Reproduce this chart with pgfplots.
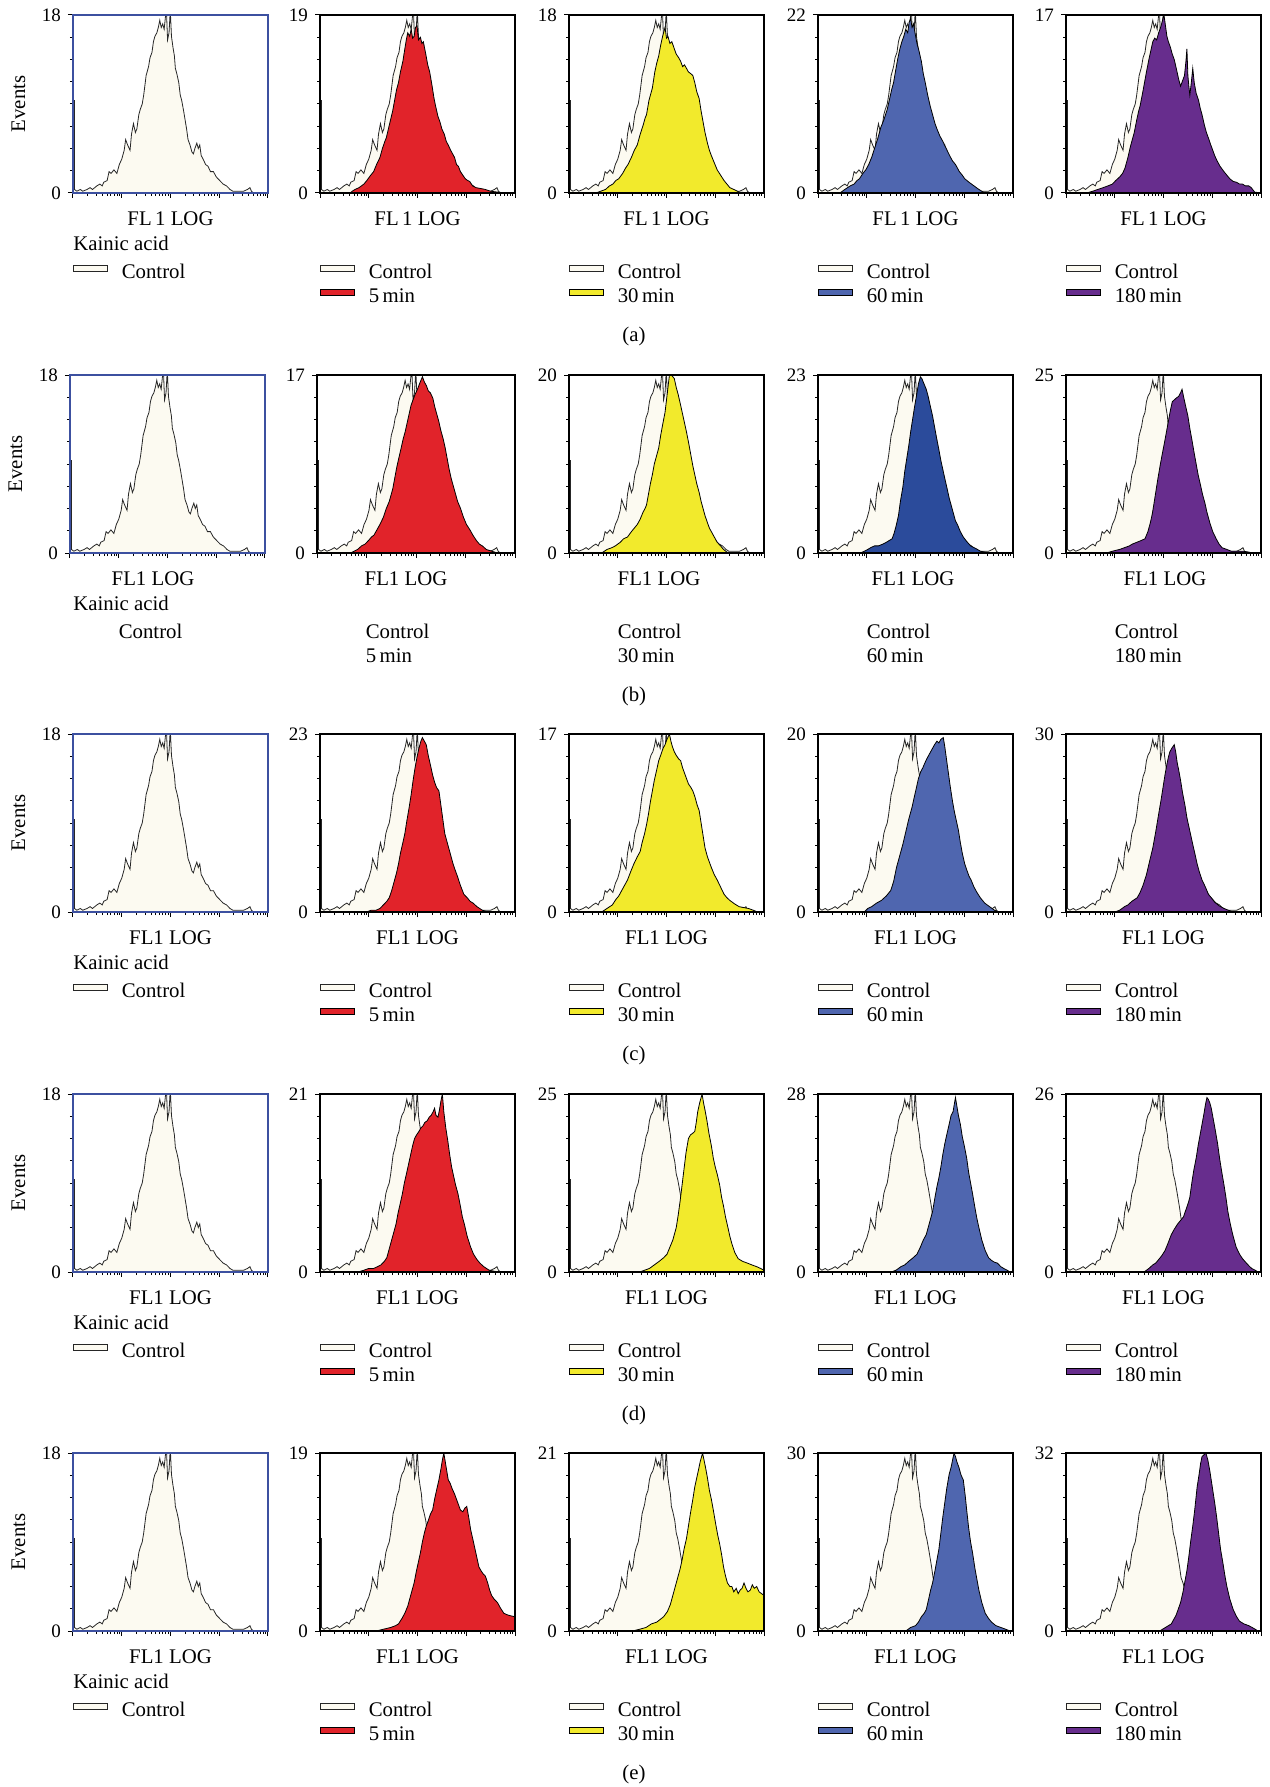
\documentclass[border=0pt]{standalone}
\usepackage{pgfplots}
\pgfplotsset{compat=1.18}
\usepackage{pgfplotstable}
\usepackage{fontspec}
\setmainfont{Liberation Serif}

\definecolor{cream}{HTML}{FCFAF1}
\definecolor{cred}{HTML}{E1232A}
\definecolor{cyel}{HTML}{F2EA2C}
\definecolor{cblue}{HTML}{4F66AF}
\definecolor{cdblue}{HTML}{2B4B9B}
\definecolor{cpur}{HTML}{672D8D}
\definecolor{frameblue}{HTML}{3C50A0}

% control histogram (x = log10 FL1 intensity, y = fraction of panel maximum)
\pgfplotstableread{
x y
0 0
0 0.52
0.03 0.52
0.03 0.02
0.08 0.01
0.15 0.02
0.2 0.01
0.29 0.02
0.35 0.03
0.4 0.02
0.49 0.04
0.55 0.05
0.6 0.04
0.63 0.06
0.7 0.07
0.74 0.12
0.78 0.11
0.84 0.13
0.9 0.11
0.95 0.16
1.0 0.19
1.05 0.24
1.08 0.30
1.12 0.27
1.17 0.24
1.2 0.33
1.24 0.39
1.28 0.34
1.31 0.36
1.35 0.44
1.38 0.47
1.42 0.50
1.45 0.55
1.5 0.66
1.55 0.71
1.58 0.76
1.62 0.79
1.65 0.85
1.68 0.88
1.72 0.90
1.75 0.93
1.78 0.97
1.81 0.93
1.84 0.95
1.87 0.92
1.9 1.0
1.92 1.0
1.94 0.86
1.97 0.90
1.99 1.0
2.0 1.0
2.02 0.88
2.05 0.82
2.08 0.77
2.1 0.70
2.13 0.67
2.17 0.62
2.2 0.55
2.23 0.52
2.27 0.46
2.3 0.41
2.33 0.36
2.36 0.30
2.4 0.27
2.44 0.23
2.47 0.22
2.5 0.25
2.54 0.28
2.57 0.25
2.6 0.27
2.63 0.21
2.67 0.19
2.72 0.16
2.77 0.15
2.82 0.12
2.88 0.12
2.94 0.09
3.01 0.07
3.08 0.05
3.15 0.04
3.22 0.02
3.28 0.01
3.4 0.01
3.5 0.01
3.58 0.02
3.63 0.03
3.66 0.01
3.7 0.0
4 0
}\ctrl

\pgfplotsset{
  hist/.style={
    scale only axis, width=97.5pt, height=89pt, anchor=north west,
    xmin=0, xmax=4, ymin=0, ymax=1,
    xtick={0,1,2,3,4}, xticklabels={},
    minor xtick={0.301,0.477,0.602,0.699,0.778,0.845,0.903,0.954,
                 1.301,1.477,1.602,1.699,1.778,1.845,1.903,1.954,
                 2.301,2.477,2.602,2.699,2.778,2.845,2.903,2.954,
                 3.301,3.477,3.602,3.699,3.778,3.845,3.903,3.954},
    ytick={0,1}, minor ytick={0.125,0.25,...,0.875},
    tick align=outside, xtick pos=left, ytick pos=left,
    major tick length=2.5pt, minor tick length=1.5pt,
    tick style={black, line width=0.5pt},
    axis line style={line width=0.6pt},
    axis on top, no markers,
    /pgf/number format/assume math mode=true,
    yticklabel style={font=\fontsize{9.5}{10}\selectfont},
    xlabel={FL1 LOG},
    xlabel style={at={(axis description cs:0.5,0)}, anchor=north, yshift=-6pt,
      font=\fontsize{10.4}{12}\selectfont},
    legend cell align=left,
    legend style={at={(0,0)}, anchor=north west, yshift=-35.5pt,
      draw=none, fill=none, inner sep=0pt, outer sep=0pt,
      row sep=3pt, column sep=7pt, font=\fontsize{10.4}{12}\selectfont,
      nodes={inner sep=0pt, text height=7pt, text depth=2pt}},
    legend image code/.code={\draw[##1, line width=0.4pt] (0pt,0.6pt) rectangle (17pt,3.8pt);},
  },
  firstcol/.style={
    axis line style={draw=frameblue, line width=0.8pt},
    ylabel={Events},
    ylabel style={at={(axis description cs:-0.28,0.5)}, anchor=center,
      font=\fontsize{10.4}{12}\selectfont},
  },
  nobox/.style={legend image post style={draw=none, fill=none, opacity=0}},
  ctrl/.style={draw=black!85, line width=0.4pt, fill=cream},
  tr/.style={draw=black, line width=0.4pt, fill=#1},
}

\newcommand{\hpanel}[4]{%
  \begin{axis}[hist, at={(#1)}, yticklabels={0,#2}, #3]
  \addplot[ctrl] table {\ctrl} \closedcycle;
  #4
  \end{axis}}

\begin{document}
\begin{tikzpicture}
\useasboundingbox (0,0) rectangle (634.5pt,-893.5pt);

% ---------------- row (a)
\hpanel{36.5pt,-7.5pt}{18}{firstcol, xlabel={FL\,1 LOG}, legend entries={Control}}{}
\hpanel{160pt,-7.5pt}{19}{xlabel={FL\,1 LOG}, legend entries={Control,5\,min}}{
\addplot[tr=cred] coordinates {(0.62,0)(0.66,0.01)(0.72,0.02)(0.8,0.03)(0.85,0.04)(0.9,0.05)(0.96,0.07)(1.04,0.10)(1.1,0.12)(1.16,0.16)(1.23,0.20)(1.28,0.25)(1.33,0.29)(1.36,0.31)(1.42,0.38)(1.49,0.46)(1.53,0.52)(1.57,0.58)(1.61,0.62)(1.65,0.68)(1.7,0.74)(1.74,0.81)(1.77,0.86)(1.8,0.90)(1.84,0.88)(1.87,0.92)(1.9,0.87)(1.93,0.88)(1.96,0.93)(1.99,0.94)(2.02,0.86)(2.06,0.875)(2.09,0.84)(2.12,0.85)(2.17,0.78)(2.21,0.72)(2.25,0.68)(2.3,0.60)(2.34,0.53)(2.37,0.49)(2.42,0.43)(2.46,0.40)(2.5,0.36)(2.55,0.33)(2.59,0.29)(2.63,0.27)(2.68,0.24)(2.72,0.22)(2.76,0.20)(2.8,0.16)(2.84,0.15)(2.88,0.12)(2.93,0.10)(2.98,0.08)(3.03,0.07)(3.07,0.065)(3.13,0.04)(3.2,0.03)(3.3,0.025)(3.39,0.02)(3.5,0.01)(3.64,0.005)(3.83,0)} \closedcycle;}
\hpanel{284.5pt,-7.5pt}{18}{xlabel={FL\,1 LOG}, legend entries={Control,30\,min}}{
\addplot[tr=cyel] coordinates {(0.55,0)(0.65,0.01)(0.75,0.02)(0.83,0.04)(0.9,0.05)(0.96,0.07)(1.02,0.08)(1.1,0.11)(1.16,0.14)(1.21,0.16)(1.28,0.2)(1.34,0.24)(1.4,0.27)(1.46,0.33)(1.52,0.38)(1.56,0.42)(1.59,0.44)(1.64,0.52)(1.68,0.56)(1.71,0.59)(1.76,0.68)(1.8,0.73)(1.84,0.77)(1.88,0.83)(1.92,0.88)(1.95,0.91)(1.97,0.93)(2.0,0.87)(2.03,0.88)(2.07,0.84)(2.11,0.85)(2.16,0.81)(2.2,0.78)(2.25,0.76)(2.29,0.74)(2.33,0.71)(2.37,0.72)(2.41,0.70)(2.45,0.68)(2.5,0.67)(2.54,0.66)(2.58,0.62)(2.62,0.57)(2.67,0.53)(2.71,0.46)(2.75,0.4)(2.79,0.34)(2.84,0.28)(2.88,0.24)(2.92,0.21)(2.98,0.17)(3.04,0.13)(3.11,0.10)(3.18,0.07)(3.24,0.05)(3.3,0.03)(3.38,0.02)(3.49,0.005)(3.75,0)} \closedcycle;}
\hpanel{409pt,-7.5pt}{22}{xlabel={FL\,1 LOG}, legend entries={Control,60\,min}}{
\addplot[tr=cblue] coordinates {(0.45,0)(0.55,0.02)(0.66,0.04)(0.74,0.05)(0.8,0.07)(0.85,0.08)(0.92,0.11)(0.98,0.13)(1.04,0.16)(1.1,0.2)(1.16,0.25)(1.23,0.31)(1.29,0.37)(1.35,0.41)(1.42,0.47)(1.47,0.53)(1.51,0.58)(1.55,0.62)(1.6,0.7)(1.64,0.76)(1.68,0.81)(1.72,0.85)(1.76,0.88)(1.8,0.92)(1.84,0.9)(1.87,0.96)(1.9,0.98)(1.93,0.93)(1.96,0.95)(1.99,0.90)(2.03,0.84)(2.07,0.80)(2.12,0.74)(2.16,0.67)(2.2,0.62)(2.25,0.55)(2.3,0.49)(2.35,0.44)(2.4,0.39)(2.44,0.36)(2.5,0.32)(2.56,0.29)(2.63,0.25)(2.7,0.21)(2.76,0.18)(2.82,0.16)(2.9,0.12)(2.96,0.10)(3.01,0.08)(3.1,0.06)(3.2,0.04)(3.3,0.02)(3.39,0.005)(3.58,0)} \closedcycle;}
\hpanel{533pt,-7.5pt}{17}{xlabel={FL\,1 LOG}, legend entries={Control,180\,min}}{
\addplot[tr=cpur] coordinates {(0.42,0)(0.55,0.01)(0.65,0.02)(0.76,0.03)(0.86,0.04)(0.95,0.05)(1.02,0.07)(1.1,0.09)(1.16,0.11)(1.21,0.14)(1.27,0.2)(1.32,0.26)(1.36,0.3)(1.4,0.34)(1.45,0.41)(1.49,0.46)(1.52,0.49)(1.57,0.56)(1.61,0.62)(1.65,0.68)(1.7,0.75)(1.74,0.8)(1.78,0.85)(1.82,0.87)(1.86,0.86)(1.9,0.9)(1.94,0.93)(1.98,0.97)(2.01,1.0)(2.04,0.94)(2.07,0.88)(2.1,0.85)(2.14,0.82)(2.18,0.78)(2.22,0.75)(2.27,0.69)(2.31,0.64)(2.35,0.6)(2.39,0.63)(2.43,0.66)(2.46,0.74)(2.48,0.81)(2.5,0.66)(2.52,0.6)(2.54,0.55)(2.57,0.62)(2.6,0.70)(2.63,0.62)(2.67,0.56)(2.72,0.52)(2.75,0.48)(2.79,0.44)(2.84,0.38)(2.88,0.34)(2.92,0.31)(2.97,0.27)(3.01,0.24)(3.05,0.21)(3.1,0.18)(3.16,0.15)(3.24,0.12)(3.3,0.1)(3.36,0.08)(3.43,0.065)(3.5,0.06)(3.56,0.05)(3.62,0.05)(3.68,0.04)(3.75,0.04)(3.8,0.03)(3.87,0.005)(4,0)} \closedcycle;}

% ---------------- row (b)
\hpanel{35pt,-187.5pt}{18}{firstcol, nobox, xlabel style={xshift=-7.25pt}, legend entries={Control}}{}
\hpanel{158.5pt,-187.5pt}{17}{width=99pt, nobox, xlabel style={xshift=-5pt}, legend entries={Control,5\,min}}{
\addplot[tr=cred] coordinates {(0.68,0)(0.75,0.01)(0.82,0.02)(0.9,0.04)(0.97,0.05)(1.04,0.07)(1.1,0.09)(1.15,0.10)(1.21,0.13)(1.27,0.16)(1.34,0.20)(1.4,0.25)(1.46,0.29)(1.5,0.33)(1.53,0.36)(1.57,0.42)(1.61,0.48)(1.65,0.53)(1.7,0.59)(1.74,0.64)(1.78,0.68)(1.82,0.73)(1.86,0.78)(1.9,0.83)(1.94,0.86)(1.98,0.89)(2.03,0.92)(2.07,0.95)(2.1,0.97)(2.13,0.99)(2.17,0.96)(2.21,0.94)(2.25,0.91)(2.29,0.9)(2.34,0.87)(2.38,0.82)(2.42,0.78)(2.46,0.74)(2.5,0.69)(2.55,0.64)(2.59,0.59)(2.63,0.53)(2.67,0.47)(2.71,0.42)(2.76,0.37)(2.8,0.33)(2.84,0.29)(2.9,0.25)(2.96,0.20)(3.02,0.16)(3.09,0.13)(3.15,0.10)(3.22,0.07)(3.28,0.05)(3.34,0.04)(3.42,0.02)(3.53,0.01)(3.65,0)} \closedcycle;}
\hpanel{284.5pt,-187.5pt}{20}{nobox, xlabel style={xshift=-3.75pt}, legend entries={Control,30\,min}}{
\addplot[tr=cyel] coordinates {(0.67,0)(0.78,0.02)(0.88,0.03)(0.95,0.04)(1.05,0.06)(1.12,0.08)(1.2,0.09)(1.28,0.12)(1.34,0.14)(1.4,0.16)(1.46,0.19)(1.52,0.23)(1.56,0.25)(1.59,0.27)(1.63,0.33)(1.67,0.39)(1.71,0.44)(1.75,0.5)(1.8,0.55)(1.84,0.59)(1.88,0.66)(1.92,0.72)(1.97,0.79)(2.0,0.86)(2.03,0.93)(2.06,1.0)(2.1,1.0)(2.13,0.99)(2.16,0.98)(2.2,0.93)(2.24,0.89)(2.29,0.83)(2.33,0.78)(2.37,0.73)(2.41,0.68)(2.46,0.61)(2.5,0.55)(2.54,0.49)(2.58,0.44)(2.62,0.39)(2.67,0.34)(2.71,0.29)(2.75,0.25)(2.79,0.21)(2.84,0.17)(2.88,0.14)(2.92,0.12)(2.98,0.09)(3.04,0.06)(3.11,0.04)(3.17,0.02)(3.24,0.005)(3.37,0)} \closedcycle;}
\hpanel{409pt,-187.5pt}{23}{nobox, xlabel style={xshift=-1.25pt}, legend entries={Control,60\,min}}{
\addplot[tr=cdblue] coordinates {(0.87,0)(0.95,0.01)(1.02,0.02)(1.08,0.03)(1.16,0.04)(1.24,0.04)(1.33,0.05)(1.4,0.06)(1.46,0.07)(1.52,0.08)(1.56,0.11)(1.6,0.15)(1.65,0.21)(1.69,0.29)(1.74,0.37)(1.78,0.46)(1.82,0.53)(1.86,0.6)(1.9,0.68)(1.94,0.75)(1.98,0.82)(2.03,0.90)(2.06,0.95)(2.1,0.99)(2.13,0.98)(2.16,0.96)(2.19,0.94)(2.22,0.92)(2.26,0.88)(2.3,0.83)(2.35,0.77)(2.39,0.71)(2.43,0.65)(2.48,0.58)(2.52,0.52)(2.56,0.47)(2.6,0.42)(2.65,0.36)(2.69,0.31)(2.73,0.27)(2.78,0.22)(2.82,0.18)(2.86,0.16)(2.92,0.12)(2.98,0.09)(3.05,0.065)(3.13,0.04)(3.24,0.025)(3.33,0.01)(3.43,0.005)(3.56,0)} \closedcycle;}
\hpanel{533pt,-187.5pt}{25}{nobox, xlabel style={xshift=0.75pt}, legend entries={Control,180\,min}}{
\addplot[tr=cpur] coordinates {(0.83,0)(0.95,0.01)(1.1,0.02)(1.2,0.03)(1.3,0.04)(1.36,0.05)(1.45,0.06)(1.54,0.07)(1.62,0.08)(1.68,0.12)(1.73,0.17)(1.77,0.22)(1.8,0.27)(1.84,0.34)(1.88,0.41)(1.93,0.49)(1.97,0.55)(2.02,0.62)(2.06,0.68)(2.1,0.74)(2.14,0.8)(2.18,0.85)(2.22,0.86)(2.26,0.87)(2.31,0.88)(2.35,0.90)(2.38,0.92)(2.41,0.88)(2.45,0.83)(2.5,0.77)(2.54,0.7)(2.58,0.64)(2.63,0.56)(2.67,0.5)(2.71,0.44)(2.76,0.38)(2.8,0.33)(2.85,0.28)(2.89,0.23)(2.95,0.17)(3.01,0.12)(3.08,0.08)(3.14,0.05)(3.2,0.03)(3.3,0.02)(3.39,0.01)(3.5,0.01)(3.64,0.01)(3.75,0.005)(3.83,0)} \closedcycle;}

% ---------------- row (c)
\hpanel{36.5pt,-367pt}{18}{firstcol, legend entries={Control}}{}
\hpanel{160pt,-367pt}{23}{legend entries={Control,5\,min}}{
\addplot[tr=cred] coordinates {(0.95,0)(1.05,0.01)(1.15,0.01)(1.23,0.02)(1.3,0.04)(1.37,0.06)(1.42,0.08)(1.47,0.12)(1.52,0.17)(1.57,0.22)(1.61,0.27)(1.65,0.33)(1.7,0.39)(1.74,0.44)(1.78,0.51)(1.83,0.59)(1.87,0.66)(1.91,0.74)(1.95,0.81)(1.99,0.87)(2.03,0.92)(2.07,0.96)(2.1,0.98)(2.14,0.96)(2.18,0.94)(2.22,0.88)(2.27,0.82)(2.31,0.77)(2.35,0.73)(2.39,0.70)(2.44,0.68)(2.48,0.6)(2.52,0.52)(2.56,0.44)(2.6,0.40)(2.65,0.35)(2.69,0.31)(2.73,0.27)(2.78,0.23)(2.82,0.2)(2.88,0.15)(2.95,0.10)(3.02,0.08)(3.08,0.06)(3.14,0.05)(3.22,0.03)(3.33,0.01)(3.45,0)} \closedcycle;}
\hpanel{284.5pt,-367pt}{17}{legend entries={Control,30\,min}}{
\addplot[tr=cyel] coordinates {(0.67,0)(0.78,0.02)(0.89,0.04)(0.96,0.07)(1.02,0.09)(1.08,0.12)(1.14,0.15)(1.2,0.18)(1.27,0.23)(1.33,0.27)(1.4,0.31)(1.46,0.34)(1.5,0.39)(1.55,0.44)(1.59,0.49)(1.63,0.55)(1.67,0.62)(1.71,0.68)(1.75,0.74)(1.8,0.8)(1.84,0.85)(1.88,0.88)(1.93,0.92)(1.97,0.94)(2.01,0.97)(2.06,1.0)(2.09,0.96)(2.12,0.93)(2.16,0.90)(2.2,0.88)(2.25,0.86)(2.29,0.85)(2.33,0.81)(2.37,0.78)(2.41,0.75)(2.45,0.72)(2.5,0.7)(2.54,0.68)(2.58,0.65)(2.63,0.60)(2.67,0.57)(2.71,0.5)(2.75,0.43)(2.79,0.36)(2.84,0.31)(2.88,0.28)(2.92,0.25)(2.98,0.21)(3.04,0.18)(3.11,0.14)(3.18,0.1)(3.24,0.08)(3.3,0.065)(3.4,0.045)(3.49,0.03)(3.58,0.025)(3.68,0.02)(3.78,0.01)(3.87,0)} \closedcycle;}
\hpanel{409pt,-367pt}{20}{legend entries={Control,60\,min}}{
\addplot[tr=cblue] coordinates {(0.95,0)(1.02,0.02)(1.1,0.03)(1.2,0.05)(1.3,0.065)(1.4,0.09)(1.49,0.12)(1.55,0.17)(1.61,0.25)(1.67,0.31)(1.74,0.38)(1.8,0.45)(1.86,0.52)(1.93,0.59)(1.97,0.64)(2.02,0.7)(2.06,0.75)(2.11,0.79)(2.15,0.81)(2.18,0.83)(2.23,0.86)(2.27,0.88)(2.31,0.90)(2.35,0.92)(2.39,0.94)(2.44,0.96)(2.48,0.95)(2.52,0.97)(2.57,0.98)(2.6,0.93)(2.63,0.87)(2.67,0.79)(2.71,0.71)(2.76,0.62)(2.8,0.56)(2.84,0.51)(2.88,0.46)(2.92,0.39)(2.96,0.33)(3.01,0.27)(3.06,0.23)(3.1,0.2)(3.14,0.18)(3.2,0.14)(3.26,0.11)(3.33,0.08)(3.42,0.05)(3.52,0.03)(3.62,0.01)(3.71,0)} \closedcycle;}
\hpanel{533pt,-367pt}{30}{legend entries={Control,180\,min}}{
\addplot[tr=cpur] coordinates {(1.0,0)(1.1,0.01)(1.2,0.03)(1.27,0.04)(1.35,0.06)(1.46,0.08)(1.52,0.11)(1.58,0.15)(1.65,0.21)(1.71,0.28)(1.78,0.36)(1.84,0.45)(1.9,0.55)(1.95,0.63)(1.99,0.7)(2.03,0.77)(2.07,0.83)(2.1,0.87)(2.13,0.90)(2.17,0.92)(2.22,0.94)(2.25,0.9)(2.28,0.84)(2.31,0.8)(2.35,0.74)(2.39,0.67)(2.44,0.6)(2.48,0.53)(2.52,0.48)(2.56,0.43)(2.6,0.38)(2.65,0.32)(2.69,0.27)(2.73,0.23)(2.79,0.18)(2.86,0.14)(2.92,0.1)(2.98,0.08)(3.05,0.055)(3.14,0.035)(3.24,0.02)(3.33,0.01)(3.43,0)} \closedcycle;}

% ---------------- row (d)
\hpanel{36.5pt,-547pt}{18}{firstcol, legend entries={Control}}{}
\hpanel{160pt,-547pt}{21}{legend entries={Control,5\,min}}{
\addplot[tr=cred] coordinates {(0.78,0)(0.9,0.01)(1.0,0.02)(1.1,0.02)(1.18,0.03)(1.25,0.04)(1.32,0.06)(1.37,0.08)(1.42,0.13)(1.47,0.18)(1.52,0.23)(1.56,0.27)(1.6,0.33)(1.65,0.39)(1.69,0.44)(1.73,0.5)(1.78,0.56)(1.82,0.61)(1.86,0.66)(1.9,0.71)(1.94,0.75)(1.98,0.77)(2.03,0.79)(2.07,0.81)(2.11,0.82)(2.15,0.84)(2.2,0.85)(2.24,0.87)(2.28,0.88)(2.32,0.90)(2.35,0.92)(2.38,0.88)(2.42,0.87)(2.45,0.91)(2.48,0.96)(2.51,1.0)(2.54,0.9)(2.58,0.81)(2.62,0.74)(2.66,0.66)(2.7,0.59)(2.74,0.54)(2.78,0.49)(2.83,0.44)(2.88,0.37)(2.92,0.31)(2.96,0.27)(3.02,0.2)(3.09,0.14)(3.15,0.1)(3.22,0.07)(3.28,0.05)(3.36,0.03)(3.47,0.01)(3.66,0)} \closedcycle;}
\hpanel{284.5pt,-547pt}{25}{legend entries={Control,30\,min}}{
\addplot[tr=cyel] coordinates {(1.45,0)(1.55,0.01)(1.65,0.02)(1.75,0.04)(1.85,0.06)(1.94,0.08)(2.01,0.10)(2.07,0.14)(2.13,0.18)(2.17,0.22)(2.2,0.25)(2.24,0.32)(2.28,0.4)(2.32,0.49)(2.36,0.58)(2.4,0.67)(2.45,0.75)(2.49,0.77)(2.54,0.78)(2.58,0.79)(2.61,0.84)(2.64,0.90)(2.68,0.95)(2.71,0.98)(2.73,1.0)(2.76,0.95)(2.79,0.91)(2.83,0.85)(2.87,0.78)(2.92,0.71)(2.96,0.64)(3.0,0.59)(3.04,0.55)(3.09,0.49)(3.13,0.42)(3.17,0.37)(3.21,0.31)(3.26,0.25)(3.3,0.2)(3.34,0.16)(3.4,0.11)(3.47,0.075)(3.56,0.06)(3.66,0.05)(3.75,0.04)(3.85,0.03)(3.93,0.02)(4.0,0.01)} \closedcycle;}
\hpanel{409pt,-547pt}{28}{legend entries={Control,60\,min}}{
\addplot[tr=cblue] coordinates {(1.5,0)(1.6,0.01)(1.7,0.03)(1.78,0.04)(1.86,0.06)(1.95,0.08)(2.03,0.10)(2.1,0.14)(2.16,0.18)(2.22,0.21)(2.27,0.26)(2.31,0.30)(2.35,0.34)(2.4,0.42)(2.44,0.48)(2.48,0.53)(2.52,0.59)(2.56,0.66)(2.6,0.72)(2.64,0.77)(2.69,0.83)(2.73,0.88)(2.77,0.9)(2.8,0.95)(2.82,0.98)(2.85,0.93)(2.88,0.88)(2.92,0.83)(2.96,0.76)(3.0,0.71)(3.05,0.64)(3.09,0.56)(3.13,0.5)(3.17,0.44)(3.22,0.36)(3.26,0.3)(3.3,0.25)(3.36,0.18)(3.43,0.12)(3.5,0.08)(3.56,0.065)(3.62,0.055)(3.68,0.05)(3.75,0.03)(3.81,0.02)(3.88,0.01)(3.94,0)} \closedcycle;}
\hpanel{533pt,-547pt}{26}{legend entries={Control,180\,min}}{
\addplot[tr=cpur] coordinates {(1.6,0)(1.7,0.02)(1.78,0.04)(1.84,0.05)(1.9,0.07)(1.96,0.09)(2.03,0.12)(2.09,0.16)(2.16,0.21)(2.22,0.24)(2.29,0.27)(2.35,0.29)(2.41,0.31)(2.46,0.35)(2.51,0.39)(2.54,0.42)(2.58,0.5)(2.62,0.57)(2.67,0.64)(2.71,0.71)(2.75,0.77)(2.79,0.83)(2.83,0.89)(2.86,0.94)(2.89,0.98)(2.92,0.97)(2.95,0.95)(2.98,0.92)(3.02,0.86)(3.06,0.8)(3.11,0.72)(3.15,0.64)(3.19,0.57)(3.24,0.49)(3.28,0.42)(3.32,0.34)(3.37,0.27)(3.42,0.21)(3.49,0.14)(3.56,0.1)(3.62,0.075)(3.7,0.05)(3.77,0.03)(3.81,0.02)(3.88,0.01)(3.94,0)} \closedcycle;}

% ---------------- row (e)
\hpanel{36.5pt,-726.5pt}{18}{firstcol, legend entries={Control}}{}
\hpanel{160pt,-726.5pt}{19}{legend entries={Control,5\,min}}{
\addplot[tr=cred] coordinates {(1.15,0)(1.3,0.01)(1.45,0.02)(1.55,0.03)(1.61,0.04)(1.68,0.07)(1.74,0.1)(1.8,0.14)(1.85,0.19)(1.89,0.23)(1.93,0.27)(1.98,0.34)(2.02,0.39)(2.06,0.44)(2.1,0.5)(2.14,0.55)(2.18,0.59)(2.22,0.62)(2.27,0.66)(2.31,0.68)(2.35,0.74)(2.39,0.79)(2.44,0.85)(2.48,0.91)(2.51,0.96)(2.54,1.0)(2.57,0.95)(2.6,0.9)(2.63,0.85)(2.67,0.83)(2.71,0.8)(2.76,0.77)(2.8,0.74)(2.84,0.71)(2.88,0.68)(2.93,0.67)(2.97,0.69)(3.01,0.70)(3.05,0.64)(3.09,0.57)(3.14,0.51)(3.18,0.46)(3.22,0.41)(3.26,0.36)(3.3,0.34)(3.35,0.32)(3.39,0.31)(3.44,0.27)(3.48,0.23)(3.52,0.2)(3.57,0.18)(3.64,0.16)(3.7,0.13)(3.77,0.10)(3.85,0.09)(3.92,0.085)(4.0,0.08)} \closedcycle;}
\hpanel{284.5pt,-726.5pt}{21}{legend entries={Control,30\,min}}{
\addplot[tr=cyel] coordinates {(1.3,0)(1.45,0.01)(1.58,0.02)(1.69,0.04)(1.8,0.05)(1.94,0.08)(2.02,0.11)(2.08,0.15)(2.13,0.2)(2.18,0.25)(2.23,0.3)(2.28,0.35)(2.32,0.4)(2.36,0.46)(2.41,0.52)(2.45,0.59)(2.49,0.66)(2.54,0.74)(2.58,0.81)(2.62,0.86)(2.66,0.91)(2.69,0.95)(2.72,0.98)(2.74,1.0)(2.77,0.96)(2.8,0.92)(2.84,0.86)(2.88,0.79)(2.92,0.74)(2.96,0.68)(3.01,0.6)(3.05,0.54)(3.09,0.49)(3.13,0.43)(3.17,0.36)(3.21,0.31)(3.25,0.27)(3.3,0.25)(3.34,0.25)(3.38,0.22)(3.43,0.24)(3.47,0.21)(3.51,0.23)(3.55,0.24)(3.59,0.27)(3.63,0.24)(3.67,0.22)(3.72,0.23)(3.76,0.26)(3.8,0.24)(3.85,0.25)(3.9,0.22)(3.95,0.21)(4.0,0.20)} \closedcycle;}
\hpanel{409pt,-726.5pt}{30}{legend entries={Control,60\,min}}{
\addplot[tr=cblue] coordinates {(1.8,0)(1.9,0.02)(2.0,0.03)(2.06,0.05)(2.12,0.08)(2.18,0.1)(2.22,0.12)(2.27,0.18)(2.31,0.23)(2.35,0.27)(2.4,0.34)(2.44,0.4)(2.48,0.46)(2.52,0.55)(2.56,0.64)(2.6,0.72)(2.64,0.8)(2.69,0.88)(2.73,0.92)(2.76,0.96)(2.79,1.0)(2.82,0.98)(2.85,0.95)(2.89,0.92)(2.93,0.88)(2.96,0.86)(2.98,0.85)(3.02,0.76)(3.05,0.68)(3.09,0.58)(3.13,0.5)(3.17,0.44)(3.22,0.35)(3.26,0.29)(3.3,0.23)(3.36,0.16)(3.43,0.10)(3.5,0.07)(3.56,0.05)(3.65,0.03)(3.75,0.02)(3.85,0.01)(3.94,0)} \closedcycle;}
\hpanel{533pt,-726.5pt}{32}{legend entries={Control,180\,min}}{
\addplot[tr=cpur] coordinates {(1.92,0)(2.04,0.02)(2.16,0.04)(2.26,0.09)(2.35,0.16)(2.4,0.22)(2.44,0.28)(2.48,0.34)(2.52,0.42)(2.56,0.51)(2.6,0.59)(2.64,0.68)(2.69,0.81)(2.73,0.88)(2.76,0.94)(2.79,0.98)(2.83,0.99)(2.87,1.0)(2.91,0.96)(2.95,0.9)(3.0,0.81)(3.05,0.72)(3.09,0.64)(3.13,0.55)(3.17,0.46)(3.22,0.38)(3.26,0.31)(3.3,0.25)(3.36,0.18)(3.43,0.12)(3.5,0.08)(3.56,0.055)(3.65,0.04)(3.75,0.03)(3.85,0.015)(3.94,0)} \closedcycle;}

% ---------------- texts
\begin{scope}[every node/.style={font=\fontsize{10.4}{12}\selectfont, inner sep=0pt}]
\node[anchor=base west] at (36.5pt,-125pt) {Kainic acid};
\node[anchor=base west] at (36.5pt,-305pt) {Kainic acid};
\node[anchor=base west] at (36.5pt,-484.5pt) {Kainic acid};
\node[anchor=base west] at (36.5pt,-664.5pt) {Kainic acid};
\node[anchor=base west] at (36.5pt,-844pt) {Kainic acid};
\node at (317pt,-168pt) {(a)};
\node at (317pt,-348pt) {(b)};
\node at (317pt,-527.5pt) {(c)};
\node at (317pt,-707.5pt) {(d)};
\node at (317pt,-887pt) {(e)};
\end{scope}
\end{tikzpicture}
\end{document}
